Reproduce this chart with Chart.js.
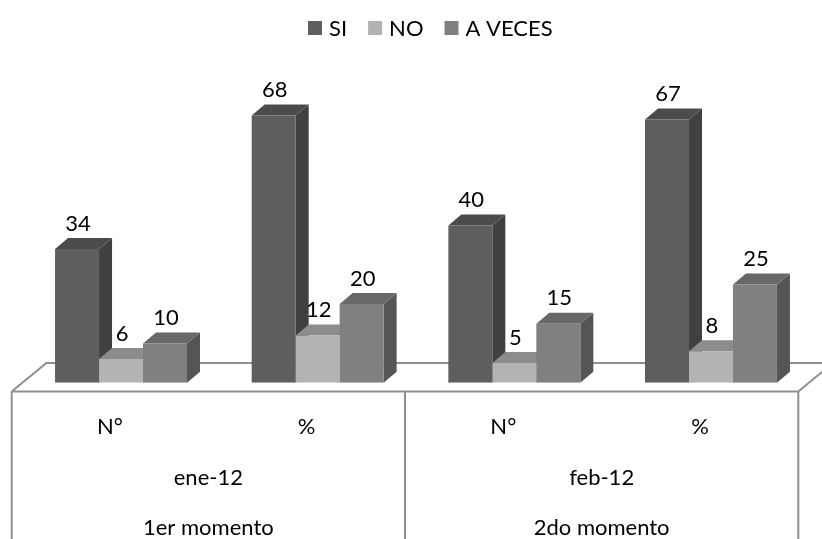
<!DOCTYPE html>
<html>
<head>
<meta charset="utf-8">
<script src="https://cdn.jsdelivr.net/npm/chart.js@4.4.0/dist/chart.umd.min.js"></script>
<style>
    html, body { margin: 0; padding: 0; background: #fff; }
    #wrap { width: 822px; height: 539px; }
</style>
</head>
<body>
<div id="wrap"><canvas id="graph1" width="822" height="539"></canvas></div>
<script>
// datos
const categorias  = ["N°", "%", "N°", "%"];
const meses       = ["ene-12", "feb-12"];
const momentos    = ["1er momento", "2do momento"];
const nombres     = ["SI", "NO", "A VECES"];
const serieSI     = [34, 68, 40, 67];
const serieNO     = [6, 12, 5, 8];
const serieAVeces = [10, 20, 15, 25];

const FUENTE  = "22px Lato";
const PROF_X  = 13,   PROF_Y  = -11;    // profundidad de cada columna
const PISO_X  = 34.7, PISO_Y  = -28.5;  // profundidad del piso
const DESPL_X = -11,  DESPL_Y = 8.8;    // del plano de las columnas al borde frontal del piso

const cubo3d = {
    id: "cubo3d",
    beforeDatasetsDraw(chart) {
        const ctx  = chart.ctx;
        const area = chart.chartArea;
        const fx0  = area.left + DESPL_X;
        const fx1  = area.right + DESPL_X;
        const fy   = area.bottom + DESPL_Y;
        const xm   = (fx0 + fx1) / 2;

        ctx.save();
        ctx.strokeStyle = "#8f8f8f";
        ctx.lineWidth   = 2;
        ctx.beginPath();
        //piso
        ctx.moveTo(fx0, fy);
        ctx.lineTo(fx0 + PISO_X, fy + PISO_Y);
        ctx.lineTo(fx1 + PISO_X, fy + PISO_Y);
        ctx.moveTo(fx0, fy);
        ctx.lineTo(fx1, fy);
        ctx.lineTo(fx1 + PISO_X, fy + PISO_Y);
        //tabla de categorias
        for (let x of [fx0, xm, fx1]) {
            ctx.moveTo(x, fy);
            ctx.lineTo(x, chart.height);
        }
        ctx.stroke();

        //caras laterales y superiores, de izquierda a derecha
        for (let i = 0; i < chart.data.labels.length; i++) {
            chart.data.datasets.forEach((ds, d) => {
                const p = chart.getDatasetMeta(d).data[i].getProps(["x", "y", "base", "width"], true);
                const l = p.x - p.width / 2;
                const r = p.x + p.width / 2;

                ctx.fillStyle = ds.lateral;
                ctx.beginPath();
                ctx.moveTo(r, p.y);
                ctx.lineTo(r + PROF_X, p.y + PROF_Y);
                ctx.lineTo(r + PROF_X, p.base + PROF_Y);
                ctx.lineTo(r, p.base);
                ctx.closePath();
                ctx.fill();

                ctx.fillStyle = ds.tapa;
                ctx.beginPath();
                ctx.moveTo(l, p.y);
                ctx.lineTo(l + PROF_X, p.y + PROF_Y);
                ctx.lineTo(r + PROF_X, p.y + PROF_Y);
                ctx.lineTo(r, p.y);
                ctx.closePath();
                ctx.fill();
            });
        }
        ctx.restore();
    },
    afterDatasetsDraw(chart) {
        const ctx  = chart.ctx;
        const area = chart.chartArea;
        const xs   = chart.scales.x;
        const fy   = area.bottom + DESPL_Y;

        ctx.save();
        ctx.font         = FUENTE;
        ctx.fillStyle    = "#000";
        ctx.textAlign    = "center";
        ctx.textBaseline = "alphabetic";

        //valores sobre las columnas
        chart.data.datasets.forEach((ds, d) => {
            chart.getDatasetMeta(d).data.forEach((bar, i) => {
                ctx.fillText(String(ds.data[i]), bar.x + 1, bar.y + PROF_Y - 7.5);
            });
        });

        //etiquetas de la tabla
        categorias.forEach((c, i) => {
            ctx.fillText(c, xs.getPixelForValue(i) + DESPL_X, fy + 42);
        });
        meses.forEach((m, j) => {
            const xc = (xs.getPixelForValue(2 * j) + xs.getPixelForValue(2 * j + 1)) / 2 + DESPL_X;
            ctx.fillText(m, xc, fy + 93.5);
            ctx.fillText(momentos[j], xc, fy + 143.5);
        });

        //leyenda
        ctx.textAlign = "left";
        let x = 308;
        chart.data.datasets.forEach((ds) => {
            ctx.fillStyle = ds.backgroundColor;
            ctx.fillRect(x, 21, 14, 14);
            ctx.fillStyle = "#000";
            x += 14 + 7;
            ctx.fillText(ds.label, x, 35.5);
            x += ctx.measureText(ds.label).width + 21;
        });
        ctx.restore();
    }
};

window.addEventListener("load", function () {
    const ctx = document.getElementById("graph1").getContext("2d");

    new Chart(ctx, {
        type: "bar",
        data: {
            labels: categorias,
            datasets: [
                { label: nombres[0], data: serieSI,     backgroundColor: "#5e5e5e", tapa: "#4b4b4b", lateral: "#404040" },
                { label: nombres[1], data: serieNO,     backgroundColor: "#b3b3b3", tapa: "#8c8c8c", lateral: "#7a7a7a" },
                { label: nombres[2], data: serieAVeces, backgroundColor: "#808080", tapa: "#686868", lateral: "#555555" }
            ]
        },
        options: {
            responsive: false,
            animation: false,
            layout: { padding: { top: 68.3, bottom: 156.3, left: 22.7, right: 12.7 } },
            datasets: { bar: { categoryPercentage: 0.671, barPercentage: 1.0, borderWidth: 0 } },
            plugins: {
                legend:  { display: false },
                tooltip: { enabled: false }
            },
            scales: {
                x: { display: false },
                y: { display: false, min: 0, max: 80 }
            }
        },
        plugins: [cubo3d]
    });
});
</script>
</body>
</html>
